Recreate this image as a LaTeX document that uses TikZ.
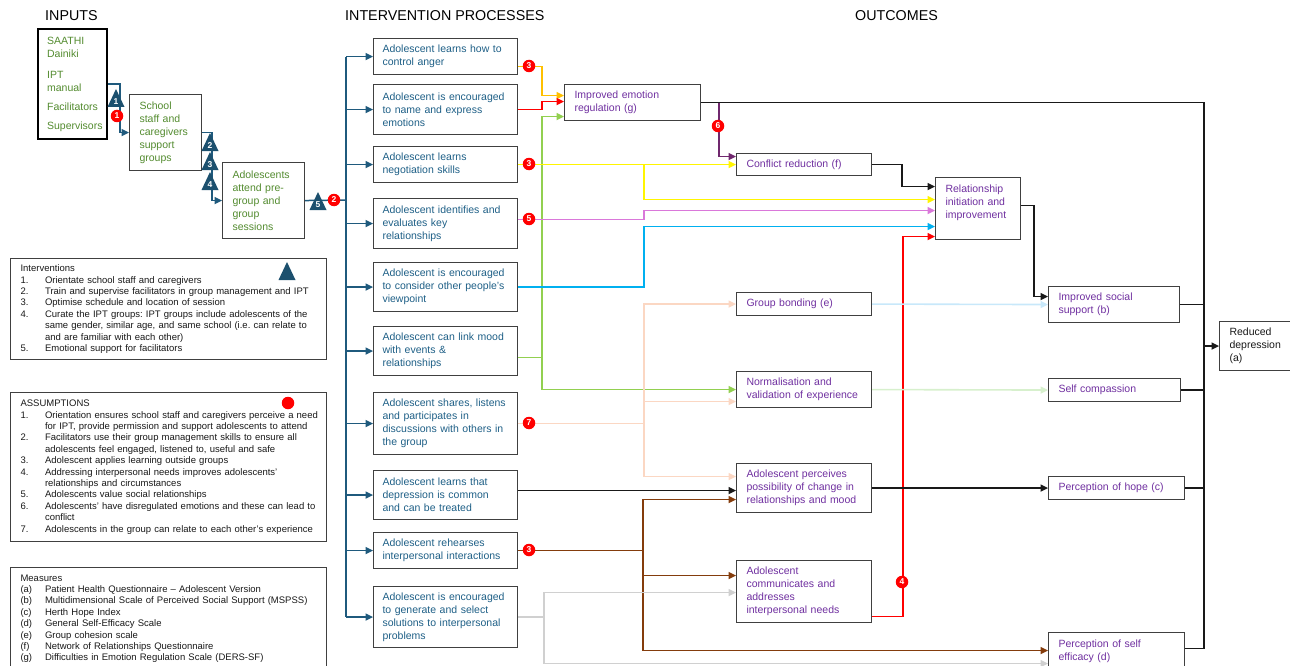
\documentclass[tikz,border=0pt]{standalone}
\usepackage{fontspec}
\setmainfont{Liberation Sans}
\usetikzlibrary{arrows.meta}
\definecolor{procblue}{RGB}{31,96,135}
\definecolor{flowblue}{RGB}{31,90,125}
\definecolor{tridark}{RGB}{28,80,110}
\definecolor{ingreen}{RGB}{84,140,48}
\definecolor{outpurple}{RGB}{112,48,160}
\definecolor{boxgray}{RGB}{64,64,64}
\definecolor{orng}{RGB}{255,192,0}
\definecolor{rd}{RGB}{255,0,0}
\definecolor{grn}{RGB}{146,208,80}
\definecolor{ylw}{RGB}{255,245,0}
\definecolor{pnk}{RGB}{218,120,218}
\definecolor{cyn}{RGB}{0,176,240}
\definecolor{pch}{RGB}{251,215,195}
\definecolor{brn}{RGB}{132,60,12}
\definecolor{lgry}{RGB}{208,208,208}
\definecolor{lblu}{RGB}{200,232,250}
\definecolor{lgrn}{RGB}{215,240,205}
\definecolor{prp}{RGB}{112,40,110}
\newcommand{\lgitem}[2]{\mbox{\makebox[24.5pt][l]{#1}#2}}
\newcommand{\lgcont}[1]{\mbox{\hspace*{24.5pt}#1}}
\frenchspacing
\begin{document}
\begin{tikzpicture}[x=1pt,y=-1pt,>={Triangle[length=7.5pt,width=7pt]},
  box/.style={draw=boxgray,line width=1.1pt,fill=white,anchor=north west,align=left,inner ysep=1pt,font=\fontsize{10.5}{13}\selectfont},
  pbox/.style={box,text=procblue,inner xsep=9pt,text width=126pt,minimum height=#1},
  obox/.style={box,text=outpurple,inner xsep=10pt},
  ibox/.style={box,text=ingreen,inner xsep=10pt},
  lgd/.style={draw=boxgray,line width=1.1pt,anchor=north west,align=left,inner xsep=10pt,inner ysep=4pt,text width=296pt,text=black!90,font=\fontsize{9.5}{11.4}\selectfont},
  ttl/.style={anchor=west,inner sep=0pt,font=\fontsize{14.3}{16}\selectfont},
  flow/.style={draw=flowblue,line width=1.5pt},
  lk/.style={line width=1.6pt},
  badge/.style={circle,fill=rd,text=white,inner sep=0pt,minimum size=12.5pt,font=\bfseries\fontsize{8.5}{8.5}\selectfont},
  trinum/.style={text=white,inner sep=0pt,font=\bfseries\fontsize{8.5}{8.5}\selectfont},
  tri/.pic={\fill[tridark] (-8.5,6) -- (0,-12) -- (8.5,6) -- cycle; \node[trinum] (-n) at (0,1) {#1};}]
  \useasboundingbox (0,0) rectangle (1290,666);
  \node[ttl] (tin) at (45,16) {INPUTS};
  \node[ttl] (tproc) at (345,16) {INTERVENTION PROCESSES};
  \node[ttl] (tout) at (855,16) {OUTCOMES};
  \node[ibox,draw=black,line width=2.2pt,inner xsep=9pt,text width=51pt,minimum height=110pt] (inp) at (37,28) {SAATHI\\Dainiki\\[8pt]IPT\\manual\\[6pt]Facilitators\\[6pt]Supervisors};
  \node[ibox,text width=52pt,minimum height=76pt] (staff) at (129,94) {School\\staff and\\caregivers\\support\\groups};
  \node[ibox,text width=62pt,minimum height=76pt] (attend) at (222,162) {Adolescents\\attend pre-\\group and\\group\\sessions};
  \node[pbox=36pt] (anger) at (373,38) {Adolescent learns how to\\control anger};
  \node[pbox=50pt] (express) at (373,84) {Adolescent is encouraged\\to name and express\\emotions};
  \node[pbox=36pt] (negot) at (373,146) {Adolescent learns\\negotiation skills};
  \node[pbox=50pt] (keyrel) at (373,198) {Adolescent identifies and\\evaluates key\\relationships};
  \node[pbox=49pt] (viewpt) at (373,262) {Adolescent is encouraged\\to consider other people’s\\viewpoint};
  \node[pbox=49pt] (mood) at (373,326) {Adolescent can link mood\\with events \&\\relationships};
  \node[pbox=62pt] (share) at (373,392) {Adolescent shares, listens\\and participates in\\discussions with others in\\the group};
  \node[pbox=49pt] (depr) at (373,470) {Adolescent learns that\\depression is common\\and can be treated};
  \node[pbox=36pt] (rehearse) at (373,532) {Adolescent rehearses\\interpersonal interactions};
  \node[pbox=61pt] (solve) at (373,586) {Adolescent is encouraged\\to generate and select\\solutions to interpersonal\\problems};
  \node[obox,text width=116pt,minimum height=36pt] (emoreg) at (564,84) {Improved emotion\\regulation (g)};
  \node[obox,text width=115pt,minimum height=22pt] (conflict) at (736,153) {Conflict reduction (f)};
  \node[obox,text width=65pt,minimum height=62pt] (relimp) at (935,177) {Relationship\\initiation and\\improvement\\~};
  \node[obox,text width=115pt,minimum height=23pt] (bond) at (736,292) {Group bonding (e)};
  \node[obox,text width=115pt,minimum height=36pt] (normal) at (736,371) {Normalisation and\\validation of experience};
  \node[obox,text width=115pt,minimum height=49pt] (change) at (736,463) {Adolescent perceives\\possibility of change in\\relationships and mood};
  \node[obox,text width=115pt,minimum height=62pt] (commun) at (736,560) {Adolescent\\communicates and\\addresses\\interpersonal needs};
  \node[obox,text width=111pt,minimum height=36pt] (socsup) at (1048,286) {Improved social\\support (b)};
  \node[obox,text width=112pt,minimum height=23pt] (selfcomp) at (1048,378) {Self compassion};
  \node[obox,text width=116pt,minimum height=23pt] (hope) at (1048,476) {Perception of hope (c)};
  \node[obox,text width=116pt,minimum height=48pt] (efficacy) at (1048,632) {Perception of self\\efficacy (d)\\~};
  \node[box,text=black!90,inner xsep=10pt,text width=53pt,minimum height=49pt] (reddep) at (1219,321) {Reduced\\depression\\(a)};
  \node[lgd,minimum height=101pt] (intv) at (10,258) {Interventions\\
    \lgitem{1.}{Orientate school staff and caregivers}\\
    \lgitem{2.}{Train and supervise facilitators in group management and IPT}\\
    \lgitem{3.}{Optimise schedule and location of session}\\
    \lgitem{4.}{Curate the IPT groups: IPT groups include adolescents of the}\\
    \lgcont{same gender, similar age, and same school (i.e. can relate to}\\
    \lgcont{and are familiar with each other)}\\
    \lgitem{5.}{Emotional support for facilitators}};
  \node[lgd,minimum height=149pt] (assum) at (10,392) {ASSUMPTIONS\\
    \lgitem{1.}{Orientation ensures school staff and caregivers perceive a need}\\
    \lgcont{for IPT, provide permission and support adolescents to attend}\\
    \lgitem{2.}{Facilitators use their group management skills to ensure all}\\
    \lgcont{adolescents feel engaged, listened to, useful and safe}\\
    \lgitem{3.}{Adolescent applies learning outside groups}\\
    \lgitem{4.}{Addressing interpersonal needs improves adolescents’}\\
    \lgcont{relationships and circumstances}\\
    \lgitem{5.}{Adolescents value social relationships}\\
    \lgitem{6.}{Adolescents’ have disregulated emotions and these can lead to}\\
    \lgcont{conflict}\\
    \lgitem{7.}{Adolescents in the group can relate to each other’s experience}};
  \node[lgd,inner ysep=7pt] (meas) at (10,567) {Measures\\
    \lgitem{(a)}{Patient Health Questionnaire – Adolescent Version}\\
    \lgitem{(b)}{Multidimensional Scale of Perceived Social Support (MSPSS)}\\
    \lgitem{(c)}{Herth Hope Index}\\
    \lgitem{(d)}{General Self-Efficacy Scale}\\
    \lgitem{(e)}{Group cohesion scale}\\
    \lgitem{(f)}{Network of Relationships Questionnaire}\\
    \lgitem{(g)}{Difficulties in Emotion Regulation Scale (DERS-SF)}\\
    ~\\~};
  \coordinate (bus) at (346,200);
  \coordinate (rbus) at (reddep.west -| 1204,0);
  \coordinate (effout) at ([yshift=8pt]efficacy.east);
  \draw[flow,->] (inp.east) -- ++(12,0) |- (staff.west);
  \draw[flow,->] (staff.east) -- ++(10,0) |- (attend.west);
  \draw[flow] (attend.east) -- (bus);
  \draw[flow] (bus |- anger.west) -- (bus |- solve.west);
  \foreach \b in {anger,express,negot,keyrel,viewpt,mood,share,depr,rehearse,solve}
    \draw[flow,->] (bus |- \b.west) -- (\b.west);
  \draw[lk,orng,->] ([yshift=-10pt]anger.east) -- ++(24,0) |- ([yshift=7pt]emoreg.west);
  \draw[lk,rd,->] (express.east) -- ++(24,0) |- ([yshift=1pt]emoreg.west);
  \draw[lk,grn,->] ([yshift=-6.5pt]mood.east) -- ++(24,0) |- ([yshift=-14pt]emoreg.west);
  \draw[lk,grn,->] ([yshift=-6.5pt]mood.east) -- ++(24,0) |- (normal.west);
  \draw[lk,ylw,->] (negot.east) -- (conflict.west);
  \draw[lk,ylw,->] (negot.east) -- ++(126,0) |- ([yshift=9pt]relimp.west);
  \draw[lk,pnk,->] ([yshift=4pt]keyrel.east) -- ++(126,0) |- ([yshift=-2pt]relimp.west);
  \draw[lk,cyn,->] (viewpt.east) -- ++(126,0) |- ([yshift=-18pt]relimp.west);
  \draw[lk,pch,->] (share.east) -- ++(126,0) |- (bond.west);
  \draw[lk,pch,->] (share.east) -- ++(126,0) |- ([yshift=-12pt]normal.west);
  \draw[lk,pch,->] (share.east) -- ++(126,0) |- ([yshift=11.5pt]change.west);
  \draw[lk,black!90,->] ([yshift=4.5pt]depr.east) -- ([yshift=-2.5pt]change.west);
  \draw[lk,brn,->] (rehearse.east) -- ++(125,0) |- ([yshift=-11.5pt]change.west);
  \draw[lk,brn,->] (rehearse.east) -- ++(125,0) |- ([yshift=16pt]commun.west);
  \draw[lk,brn,->] (rehearse.east) -- ++(125,0) |- ([yshift=6pt]efficacy.west);
  \draw[lk,lgry,->] (solve.east) -- ++(26,0) |- ([yshift=-1pt]commun.west);
  \draw[lk,lgry,->] (solve.east) -- ++(26,0) |- ([yshift=-7pt]efficacy.west);
  \draw[lk,rd,->] ([yshift=-25pt]commun.east) -- ++(31,0) |- ([yshift=-28pt]relimp.west);
  \draw[lk,black!90] (emoreg.east) -| (rbus |- effout);
  \draw[lk,prp,->] ([xshift=18pt]emoreg.east) |- ([yshift=8pt]conflict.west);
  \draw[lk,black!90,->] (conflict.east) -- ++(30,0) |- ([yshift=22pt]relimp.west);
  \draw[lk,black!90,->] ([yshift=3pt]relimp.east) -- ++(13,0) |- ([yshift=8pt]socsup.west);
  \draw[lk,lblu,->] (bond.east) -- (socsup.west);
  \draw[lk,lgrn,->] (normal.east) -- (selfcomp.west);
  \draw[lk,black!90,->] (change.east) -- (hope.west);
  \draw[lk,black!90] (socsup.east) -- (rbus |- socsup.east);
  \draw[lk,black!90] (selfcomp.east) -- (rbus |- selfcomp.east);
  \draw[lk,black!90] (hope.east) -- (rbus |- hope.east);
  \draw[lk,black!90] (effout) -- (rbus |- effout);
  \draw[lk,black!90,->] (rbus) -- (reddep.west);
  \pic (t1) at (116,101) {tri=1};
  \pic (t2) at (210,145) {tri=2};
  \pic (t3) at (210,164) {tri=3};
  \pic (t4) at (210,184) {tri=4};
  \pic (t5) at (318,204) {tri=5};
  \pic (tl) at (287,274) {tri={}};
  \node[badge] (b1) at (117,116) {1};
  \node[badge] (b2) at (334,200) {2};
  \node[badge] (b3a) at (529,66) {3};
  \node[badge] (b3b) at (529,164) {3};
  \node[badge] (b5) at (529,219) {5};
  \node[badge] (b7) at (529,423) {7};
  \node[badge] (b3c) at (529,550) {3};
  \node[badge] (b6) at (718,126) {6};
  \node[badge] (b4) at (902,582) {4};
  \node[badge] (bl) at (288,403) {};
\end{tikzpicture}
\end{document}
